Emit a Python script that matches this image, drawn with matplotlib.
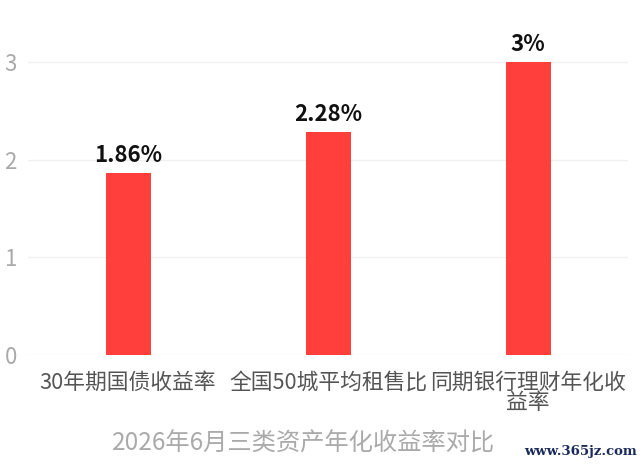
import matplotlib
matplotlib.use('Agg')
import matplotlib.pyplot as plt

categories = ['30年期国债收益率', '全国50城平均租售比', '同期银行理财年化收\n益率']
values = [1.86, 2.28, 3]
labels = ['1.86%', '2.28%', '3%']
yticks = [0, 1, 2, 3]
title = '2026年6月三类资产年化收益率对比'

plt.rcParams['font.family'] = ['Noto Sans CJK SC', 'DejaVu Sans']

fig = plt.figure(figsize=(6.4, 4.7), dpi=100)
ax = fig.add_axes([28/640, 1 - 355/470, 600/640, 342/470])

x = range(len(categories))
ax.bar(x, values, width=0.225, color='#ff3f3b', zorder=3)
for xi, v, t in zip(x, values, labels):
    ax.text(xi, v + 0.06, t, ha='center', va='bottom', fontsize=16,
            fontweight='bold', color='#111111')

ax.set_xlim(-0.5, 2.5)
ax.set_ylim(0, 3.5)
ax.set_yticks(yticks)
ax.set_xticks(list(x))
ax.set_xticklabels(categories, fontsize=15.7, color='#555555', linespacing=0.9)
ax.tick_params(axis='y', labelsize=16, labelcolor='#aaaaaa', length=0, pad=8)
ax.tick_params(axis='x', length=0, pad=12)
ax.grid(axis='y', color='#f0f0f0', linewidth=1, zorder=0)
for s in ax.spines.values():
    s.set_visible(False)

fig.text(304/640, 1 - 444/470, title, ha='center', va='center',
         fontsize=17.5, color='#aaaaaa')
fig.text(581/640, 1 - 452/470, 'www.365jz.com', ha='center', va='center',
         fontsize=9.5, color='#1a2a5a', family='DejaVu Serif', fontweight='bold')

fig.savefig('out.png', dpi=100)
